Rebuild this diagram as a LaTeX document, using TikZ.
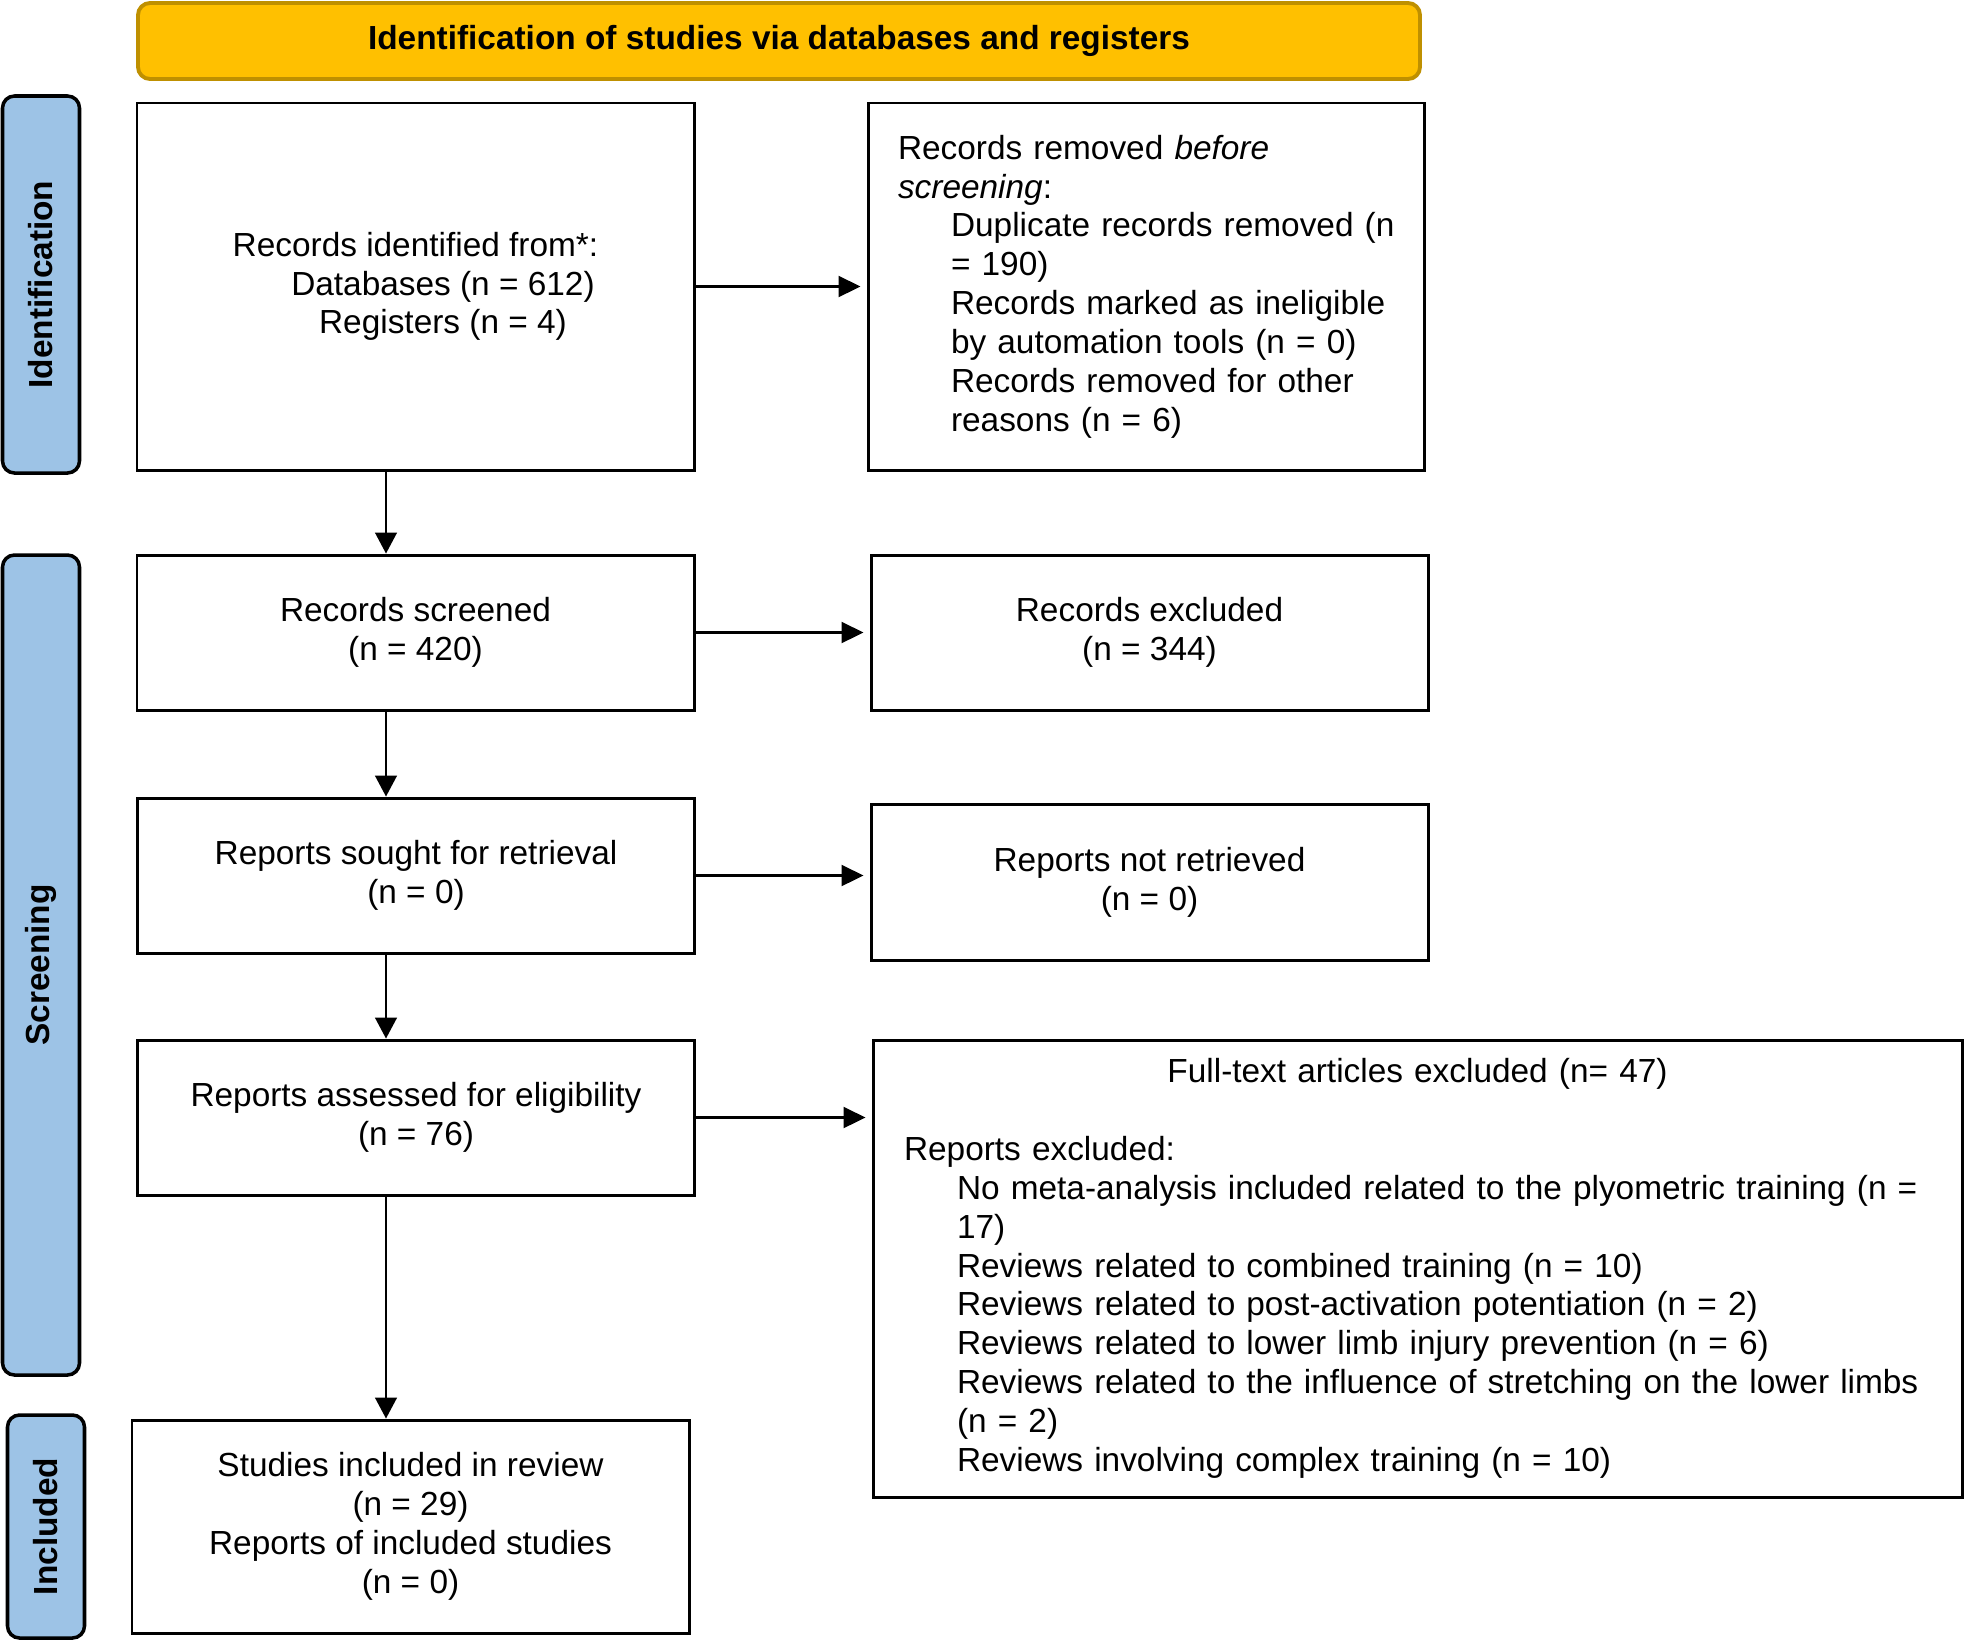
\documentclass[tikz,border=0pt]{standalone}
\usepackage{fontspec}
\setmainfont{Liberation Sans}
\usepackage{tikz}
\usetikzlibrary{arrows.meta,positioning,calc}
\definecolor{prismagold}{HTML}{FFC000}
\definecolor{prismaedge}{HTML}{BF9000}
\definecolor{prismablue}{HTML}{9DC3E6}
\begin{document}
\begin{tikzpicture}[every node/.style={font=\fontsize{9.5}{11.05}\selectfont},
  box/.style={draw, line width=0.85pt, minimum width=5.57cm, align=center, inner sep=0pt},
  bar/.style={draw, line width=1pt, fill=prismablue, rounded corners=0.12cm, minimum width=0.77cm, inner sep=0pt},
  harr/.style={line width=0.6pt, -{Triangle[length=0.22cm,width=0.21cm]}, shorten >=0.06cm},
  varr/.style={line width=0.4pt, -{Triangle[length=0.21cm,width=0.22cm]}}]
\useasboundingbox (0,0) rectangle (19.64,-16.42);
% header
\node[draw=prismaedge, line width=1.1pt, fill=prismagold, rounded corners=0.12cm, minimum width=12.82cm, minimum height=0.76cm, inner sep=0pt, font=\fontsize{9.5}{11.05}\selectfont\bfseries] (head) at (7.79,-0.41) {Identification of studies via databases and registers};
% side bars
\node[bar, minimum height=3.77cm] (idbar) at (0.41,-2.845) {};
\node[bar, minimum height=8.2cm] (scrbar) at (0.41,-9.65) {};
\node[bar, minimum height=2.23cm] (incbar) at (0.46,-15.265) {};
\node[rotate=90, font=\fontsize{9.5}{11.05}\selectfont\bfseries] at (idbar) {Identification};
\node[rotate=90, font=\fontsize{9.5}{11.05}\selectfont\bfseries] at (scrbar) {Screening};
\node[rotate=90, font=\fontsize{9.5}{11.05}\selectfont\bfseries] at (incbar) {Included};
% left column
\node[box, minimum height=3.67cm] (ident) at (4.155,-2.865) {Records identified from*:\\ \hspace*{0.55cm}Databases (n = 612)\\ \hspace*{0.55cm}Registers (n = 4)};
\node[box, minimum height=1.55cm] (screened) at (4.155,-6.325) {Records screened\\ (n = 420)};
\node[box, minimum height=1.55cm] (sought) at (4.16,-8.755) {Reports sought for retrieval\\ (n = 0)};
\node[box, minimum height=1.55cm] (assessed) at (4.16,-11.175) {Reports assessed for eligibility\\ (n = 76)};
\node[box, minimum height=2.13cm] (included) at (4.105,-15.265) {Studies included in review\\ (n = 29)\\ Reports of included studies\\ (n = 0)};
% right column
\node[box, minimum width=5.56cm, minimum height=3.67cm, text width=4.96cm, align=left] (removed) at (11.46,-2.865) {Records removed \textit{before}\\ \textit{screening}:\\
  \hspace*{0.53cm}\mbox{Duplicate records removed (n}\\ \hspace*{0.53cm}= 190)\\
  \hspace*{0.53cm}Records marked as ineligible\\ \hspace*{0.53cm}by automation tools (n = 0)\\
  \hspace*{0.53cm}Records removed for other\\ \hspace*{0.53cm}reasons (n = 6)};
\node[box, minimum height=1.55cm] (excluded) at (11.495,-6.325) {Records excluded\\ (n = 344)};
\node[box, minimum height=1.56cm] (notret) at (11.495,-8.82) {Reports not retrieved\\ (n = 0)};
\node[box, minimum width=10.89cm, minimum height=4.57cm, text width=10.27cm, align=left] (fulltext) at (14.175,-12.685) {\makebox[10.27cm][c]{Full-text articles excluded (n= 47)}\\[11.05pt]
  Reports excluded:\\
  \hspace*{0.53cm}No meta-analysis included related to the plyometric training (n =\\ \hspace*{0.53cm}17)\\
  \hspace*{0.53cm}Reviews related to combined training (n = 10)\\
  \hspace*{0.53cm}Reviews related to post-activation potentiation (n = 2)\\
  \hspace*{0.53cm}Reviews related to lower limb injury prevention (n = 6)\\
  \hspace*{0.53cm}Reviews related to the influence of stretching on the lower limbs\\ \hspace*{0.53cm}(n = 2)\\
  \hspace*{0.53cm}Reviews involving complex training (n = 10)};
% arrows
\coordinate (vx) at (3.86,0);
\foreach \a/\b in {ident/screened, screened/sought, sought/assessed, assessed/included}
  \draw[varr] (\a.south -| vx) -- (\b.north -| vx);
\foreach \a/\b in {ident/removed, screened/excluded, sought/notret, assessed/fulltext}
  \draw[harr] (\a.east) -- (\a.east -| \b.west);
\end{tikzpicture}
\end{document}
